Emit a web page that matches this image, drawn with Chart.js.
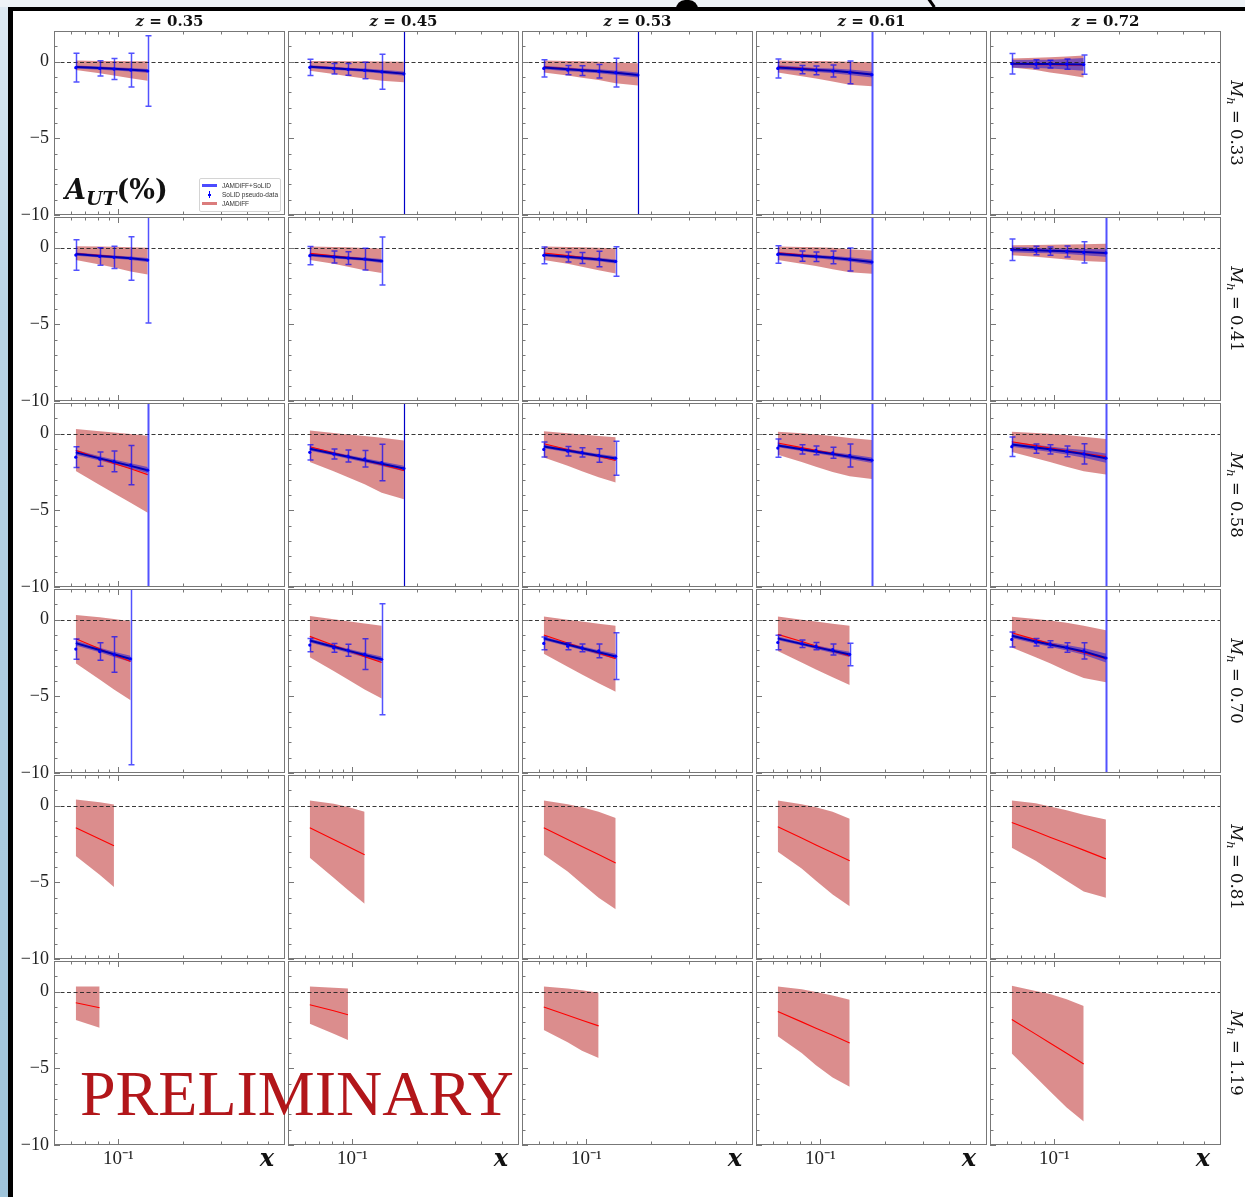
<!DOCTYPE html>
<html>
<head>
<meta charset="utf-8">
<script src="https://cdn.jsdelivr.net/npm/chart.js@4.4.0/dist/chart.umd.min.js"></script>
<style>
  body { margin: 0; width: 1245px; height: 1197px; position: relative; background: #fff; overflow: hidden; font-family: 'Liberation Serif', serif; }
  canvas { position: absolute; }
  .abs { position: absolute; white-space: nowrap; z-index: 5; }
  .zlab { font-family: 'DejaVu Serif', serif; font-weight: bold; font-size: 15px; color: #111; transform: translate(-50%, -50%); }
  .mhlab { font-family: 'DejaVu Serif', serif; font-size: 16.5px; color: #111; transform: translate(-50%, -50%) rotate(90deg); }
  .mhlab sub { font-size: 70%; vertical-align: -0.3em; line-height: 0; }
  .xlab { font-family: 'DejaVu Serif', serif; font-weight: bold; font-style: italic; font-size: 24px; color: #111; transform: translate(-50%, -50%); }
  #legend { position: absolute; left: 199px; top: 178px; width: 80px; height: 32px; border: 1px solid #d4d4d4; border-radius: 2px; background: rgba(255,255,255,0.85); z-index: 5; font-family: 'Liberation Sans', sans-serif; font-size: 6.5px; color: #333; }
  #legend .row { position: absolute; left: 0; height: 9px; width: 80px; }
  #legend .txt { position: absolute; left: 22px; top: 0; line-height: 9px; }
  #legend .swatch { position: absolute; left: 2px; top: 3px; width: 15px; height: 3px; }
</style>
</head>
<body>
<div class="abs" style="left:0;top:0;width:1245px;height:7px;background:#eef3f7;"></div>
<div class="abs" style="left:0;top:7px;width:8px;height:1190px;background:linear-gradient(#dde9f2,#b9d4e5 300px,#9fc4da);"></div>
<div class="abs" style="left:8px;top:7px;width:1237px;height:4px;background:#000;"></div>
<div class="abs" style="left:8px;top:7px;width:5px;height:1190px;background:#000;"></div>
<div class="abs" style="left:676px;top:0;width:22px;height:10px;background:#000;border-radius:9px 9px 0 0;"></div>
<div class="abs" style="left:930px;top:-2px;width:3px;height:10px;background:#000;transform:rotate(-35deg);"></div>

<div class="abs" style="left:65px;top:174px;font-family:'DejaVu Serif',serif;font-weight:bold;font-size:27px;color:#111;">
  <i>A</i><sub style="font-size:70%;vertical-align:-0.3em;line-height:0;"><i>UT</i></sub>(%)
</div>
<div id="legend">
  <div class="row" style="top:2px;"><div class="swatch" style="background:rgba(30,30,255,0.8);"></div><div class="txt">JAMDiFF+SoLID</div></div>
  <div class="row" style="top:11px;">
    <div style="position:absolute;left:9px;top:1px;width:1px;height:7px;background:#00f;"></div>
    <div style="position:absolute;left:8px;top:3.5px;width:3px;height:2px;background:#00f;"></div>
    <div class="txt">SoLID pseudo-data</div></div>
  <div class="row" style="top:20px;"><div class="swatch" style="background:rgba(215,110,110,0.9);"></div><div class="txt">JAMDiFF</div></div>
</div>
<div class="abs" style="left:80px;top:1062px;font-family:'Liberation Serif',serif;font-size:64px;line-height:1;color:#b2161a;">PRELIMINARY</div>

<script>
// x positions of the bins (shared by every panel)
const xPts = [0.0632, 0.0817, 0.0953, 0.114, 0.137, 0.174];
const xTicks = [0.06, 0.07, 0.08, 0.09, 0.1, 0.2, 0.3, 0.4, 0.5];
const zBins = ['0.35', '0.45', '0.53', '0.61', '0.72'];
const mhBins = ['0.33', '0.41', '0.58', '0.70', '0.81', '1.19'];

// JAMDiFF central line and band, [row Mh][col z][point]
const redMid = [
  [[-0.33,-0.40,-0.45,-0.52,-0.60], [-0.30,-0.40,-0.47,-0.55,-0.64,-0.78], [-0.33,-0.46,-0.53,-0.61,-0.71,-0.87], [-0.33,-0.44,-0.51,-0.59,-0.68,-0.84], [-0.17,-0.19,-0.20,-0.21,-0.22]],
  [[-0.38,-0.50,-0.58,-0.67,-0.80], [-0.37,-0.53,-0.62,-0.73,-0.87], [-0.35,-0.52,-0.62,-0.75,-0.90], [-0.33,-0.47,-0.55,-0.64,-0.76,-0.94], [-0.10,-0.16,-0.20,-0.24,-0.29,-0.35]],
  [[-1.09,-1.62,-1.94,-2.29,-2.67], [-0.85,-1.25,-1.48,-1.75,-2.03,-2.40], [-0.66,-1.03,-1.25,-1.49,-1.75], [-0.61,-0.91,-1.08,-1.28,-1.49,-1.77], [-0.53,-0.78,-0.93,-1.10,-1.28,-1.50]],
  [[-1.25,-1.90,-2.30,-2.73], [-1.09,-1.67,-2.01,-2.41,-2.80], [-1.00,-1.52,-1.83,-2.19,-2.54], [-0.96,-1.43,-1.72,-2.04,-2.36], [-0.85,-1.30,-1.55,-1.85,-2.15,-2.55]],
  [[-1.44,-2.17,-2.62], [-1.44,-2.21,-2.67,-3.20], [-1.44,-2.20,-2.66,-3.19,-3.74], [-1.38,-2.11,-2.56,-3.07,-3.60], [-1.10,-1.69,-2.06,-2.47,-2.90,-3.47]],
  [[-0.72,-1.05], [-0.85,-1.25,-1.50], [-1.00,-1.54,-1.86,-2.23], [-1.30,-1.97,-2.38,-2.85,-3.34], [-1.81,-2.77,-3.35,-4.02,-4.72]]
];
const redHi = [
  [[0.07,0.05,0.04,0.03,0.02], [0.05,0.04,0.03,0.02,0.01,0.00], [0.07,0.04,0.02,0.00,-0.05,-0.10], [0.07,0.05,0.04,0.02,0.00,-0.03], [0.20,0.25,0.29,0.33,0.40]],
  [[0.10,0.08,0.06,0.03,0.00], [0.07,0.04,0.02,-0.02,-0.06], [0.07,0.04,0.02,-0.01,-0.04], [0.07,0.05,0.03,0.00,-0.10,-0.18], [0.15,0.17,0.19,0.20,0.22,0.25]],
  [[0.31,0.15,0.07,-0.02,-0.13], [0.20,0.04,-0.05,-0.15,-0.27,-0.44], [0.15,0.02,-0.06,-0.15,-0.24], [0.13,0.03,-0.05,-0.15,-0.28,-0.42], [0.13,0.05,0.00,-0.08,-0.20,-0.34]],
  [[0.30,0.15,0.05,-0.10], [0.24,0.03,-0.10,-0.25,-0.39], [0.20,0.00,-0.12,-0.26,-0.39], [0.20,0.00,-0.12,-0.26,-0.39], [0.19,0.05,-0.05,-0.20,-0.40,-0.69]],
  [[0.40,0.22,0.07], [0.33,0.12,-0.08,-0.40], [0.33,0.10,-0.10,-0.40,-0.80], [0.33,0.10,-0.10,-0.40,-0.85], [0.33,0.15,-0.05,-0.30,-0.60,-0.90]],
  [[0.33,0.33], [0.33,0.26,0.20], [0.33,0.20,0.10,-0.07], [0.33,0.15,-0.02,-0.25,-0.52], [0.39,0.05,-0.15,-0.50,-0.94]]
];
const redLo = [
  [[-0.55,-0.75,-0.90,-1.08,-1.25], [-0.60,-0.80,-0.95,-1.10,-1.25,-1.35], [-0.70,-0.90,-1.05,-1.20,-1.40,-1.55], [-0.70,-0.95,-1.10,-1.30,-1.50,-1.60], [-0.38,-0.55,-0.70,-0.85,-1.03]],
  [[-0.80,-1.10,-1.30,-1.55,-1.75], [-0.80,-1.05,-1.25,-1.48,-1.66], [-0.80,-1.05,-1.25,-1.48,-1.68], [-0.80,-1.05,-1.20,-1.40,-1.60,-1.70], [-0.50,-0.60,-0.68,-0.77,-0.87,-0.94]],
  [[-2.43,-3.34,-3.89,-4.50,-5.16], [-1.84,-2.45,-2.85,-3.30,-3.85,-4.28], [-1.55,-2.10,-2.45,-2.85,-3.19], [-1.38,-1.85,-2.15,-2.50,-2.78,-2.95], [-1.19,-1.60,-1.85,-2.15,-2.45,-2.66]],
  [[-2.84,-3.90,-4.55,-5.25], [-2.45,-3.35,-3.90,-4.55,-5.14], [-2.23,-3.07,-3.57,-4.15,-4.70], [-2.05,-2.80,-3.25,-3.75,-4.26], [-1.82,-2.45,-2.85,-3.35,-3.80,-4.08]],
  [[-3.28,-4.50,-5.30], [-3.40,-4.70,-5.50,-6.40], [-3.20,-4.30,-5.10,-6.00,-6.75], [-3.00,-4.10,-4.90,-5.80,-6.56], [-2.75,-3.60,-4.20,-4.90,-5.60,-6.00]],
  [[-1.84,-2.36], [-2.10,-2.75,-3.15], [-2.50,-3.30,-3.85,-4.33], [-2.90,-4.00,-4.80,-5.60,-6.20], [-4.04,-5.56,-6.49,-7.55,-8.46]]
];

// JAMDiFF+SoLID line and band half-width (first four Mh rows only)
const bluMid = [
  [[-0.35,-0.42,-0.47,-0.53,-0.60], [-0.33,-0.43,-0.49,-0.56,-0.65,-0.78], [-0.38,-0.50,-0.56,-0.63,-0.72,-0.87], [-0.38,-0.48,-0.54,-0.60,-0.69,-0.84], [-0.14,-0.15,-0.16,-0.17,-0.18]],
  [[-0.42,-0.54,-0.61,-0.69,-0.80], [-0.47,-0.60,-0.67,-0.75,-0.87], [-0.47,-0.60,-0.68,-0.77,-0.90], [-0.40,-0.52,-0.58,-0.66,-0.77,-0.94], [-0.12,-0.17,-0.20,-0.24,-0.29,-0.35]],
  [[-1.22,-1.61,-1.84,-2.10,-2.38], [-0.98,-1.31,-1.51,-1.73,-1.96,-2.27], [-0.83,-1.10,-1.26,-1.44,-1.62], [-0.77,-1.02,-1.16,-1.33,-1.50,-1.73], [-0.70,-0.90,-1.02,-1.16,-1.32,-1.60]],
  [[-1.53,-1.98,-2.26,-2.56], [-1.36,-1.77,-2.02,-2.30,-2.58], [-1.22,-1.62,-1.86,-2.13,-2.40], [-1.22,-1.58,-1.79,-2.03,-2.27], [-1.05,-1.42,-1.62,-1.83,-2.07,-2.50]]
];
const bluErr = [
  [[0.10,0.10,0.10,0.11,0.12], [0.10,0.10,0.10,0.11,0.12,0.14], [0.12,0.12,0.12,0.13,0.15,0.17], [0.15,0.13,0.13,0.15,0.18,0.20], [0.25,0.27,0.29,0.34,0.42]],
  [[0.10,0.10,0.10,0.11,0.13], [0.10,0.10,0.10,0.11,0.13], [0.10,0.10,0.10,0.11,0.13], [0.12,0.11,0.11,0.12,0.14,0.17], [0.18,0.17,0.17,0.18,0.20,0.25]],
  [[0.15,0.14,0.15,0.17,0.20], [0.13,0.12,0.12,0.13,0.15,0.18], [0.12,0.11,0.11,0.12,0.14], [0.12,0.11,0.11,0.12,0.15,0.18], [0.15,0.17,0.18,0.20,0.25,0.30]],
  [[0.15,0.15,0.17,0.20], [0.13,0.12,0.13,0.15,0.18], [0.12,0.11,0.12,0.14,0.17], [0.12,0.11,0.12,0.14,0.17], [0.15,0.15,0.15,0.18,0.22,0.30]]
];

// SoLID pseudo-data and its errors (30 = bar runs off the panel)
const pseudoY = [
  [[-0.39,-0.44,-0.48,-0.55,-0.61], [-0.37,-0.46,-0.50,-0.57,-0.66,-0.79], [-0.44,-0.55,-0.59,-0.63,-0.72,-0.87], [-0.44,-0.52,-0.57,-0.61,-0.70,-0.85], [-0.13,-0.16,-0.16,-0.16,-0.19]],
  [[-0.48,-0.57,-0.63,-0.70,-0.81], [-0.52,-0.61,-0.68,-0.74,-0.87], [-0.50,-0.61,-0.68,-0.74,-0.90], [-0.44,-0.55,-0.59,-0.63,-0.77,-0.94], [-0.13,-0.19,-0.22,-0.25,-0.31,-0.34]],
  [[-1.53,-1.66,-1.81,-2.05,-2.38], [-1.22,-1.33,-1.46,-1.64,-1.88,-2.27], [-1.03,-1.14,-1.22,-1.42,-1.60], [-0.94,-1.03,-1.09,-1.25,-1.42,-1.73], [-0.85,-0.97,-1.03,-1.16,-1.32,-1.60]],
  [[-1.92,-2.08,-2.27,-2.56], [-1.66,-1.84,-1.99,-2.25,-2.58], [-1.55,-1.73,-1.84,-2.03,-2.38], [-1.49,-1.57,-1.73,-1.95,-2.27], [-1.29,-1.47,-1.60,-1.82,-2.04,-2.50]]
];
const pseudoErr = [
  [[0.94,0.50,0.68,1.10,2.30], [0.53,0.34,0.38,0.54,1.14,30], [0.56,0.30,0.32,0.44,0.94,30], [0.62,0.27,0.28,0.39,0.74,30], [0.67,0.28,0.25,0.33,0.63]],
  [[1.00,0.57,0.73,1.42,4.10], [0.60,0.39,0.42,0.71,1.57], [0.55,0.33,0.36,0.50,0.96], [0.57,0.33,0.31,0.42,0.75,30], [0.70,0.28,0.27,0.36,0.69,30]],
  [[0.67,0.46,0.68,1.28,30], [0.50,0.33,0.39,0.54,1.19,30], [0.49,0.31,0.30,0.44,1.11], [0.59,0.30,0.28,0.36,0.75,30], [0.64,0.30,0.30,0.35,0.66,30]],
  [[0.66,0.57,1.16,6.90], [0.43,0.28,0.39,1.00,3.62], [0.42,0.23,0.26,0.45,1.53], [0.48,0.24,0.24,0.36,0.74], [0.49,0.24,0.22,0.31,0.53,30]]
];
// panels whose long bar is drawn thin and dark
const darkBars = ['0-1', '0-2', '2-1'];

const W = 231, H = 184, X0 = 54, Y0 = 31, DX = 234, DY = 186;
const tickFont = { family: 'Liberation Serif', size: 18 };

function pts(vals, add) {
	return vals.map((v, i) => ({ x: xPts[i], y: add ? v + add[i] : v }));
}

const panelDraw = {
	id: 'panelDraw',
	afterDatasetsDraw(chart) {
		let { ctx, chartArea: a, scales: { x, y } } = chart;
		ctx.save();
		ctx.beginPath();
		ctx.rect(a.left, a.top, a.right - a.left, a.bottom - a.top);
		ctx.clip();

		let y0 = Math.round(y.getPixelForValue(0)) + 0.5;
		ctx.strokeStyle = '#222';
		ctx.lineWidth = 0.9;
		ctx.setLineDash([4, 2.5]);
		ctx.beginPath();
		ctx.moveTo(a.left, y0);
		ctx.lineTo(a.right, y0);
		ctx.stroke();
		ctx.setLineDash([]);

		chart.data.datasets.forEach(ds => {
			if (!ds.errorBars) return;
			ds.data.forEach(d => {
				let px = Math.round(x.getPixelForValue(d.x)) + 0.5;
				let top = y.getPixelForValue(d.y + d.e);
				let bot = y.getPixelForValue(d.y - d.e);
				let long = d.e > 10;
				if (long && ds.dark) {
					ctx.strokeStyle = '#0000c8';
					ctx.lineWidth = 1.2;
				} else {
					ctx.strokeStyle = 'rgba(0, 0, 255, 0.68)';
					ctx.lineWidth = long ? 2 : 1.5;
				}
				ctx.beginPath();
				ctx.moveTo(px, top);
				ctx.lineTo(px, bot);
				ctx.moveTo(px - 3, top);
				ctx.lineTo(px + 3, top);
				ctx.moveTo(px - 3, bot);
				ctx.lineTo(px + 3, bot);
				ctx.stroke();
			});
		});
		ctx.restore();
	},
	afterDraw(chart) {
		let { ctx, chartArea: a, scales: { x, y } } = chart;
		ctx.save();
		ctx.strokeStyle = '#777';
		ctx.lineWidth = 1;
		ctx.strokeRect(a.left + 0.5, a.top + 0.5, a.right - a.left - 1, a.bottom - a.top - 1);
		ctx.beginPath();
		x.ticks.forEach(t => {
			let px = Math.round(x.getPixelForValue(t.value)) + 0.5;
			let len = t.value === 0.1 ? 6 : 3.5;
			ctx.moveTo(px, a.bottom);
			ctx.lineTo(px, a.bottom - len);
			ctx.moveTo(px, a.top);
			ctx.lineTo(px, a.top + len);
		});
		y.ticks.forEach(t => {
			let py = Math.round(y.getPixelForValue(t.value)) + 0.5;
			let len = t.value % 5 === 0 ? 6 : 3.5;
			ctx.moveTo(a.left, py);
			ctx.lineTo(a.left + len, py);
		});
		ctx.stroke();
		ctx.restore();
	}
};

function makePanel(r, c) {
	let padL = c === 0 ? 50 : 10;
	let padB = r === 5 ? 40 : 10;
	let cv = document.createElement('canvas');
	cv.width = padL + W + 10;
	cv.height = 10 + H + padB;
	cv.style.left = (X0 + c * DX - padL) + 'px';
	cv.style.top = (Y0 + r * DY - 10) + 'px';
	document.body.appendChild(cv);

	let datasets = [
		{ data: pts(redHi[r][c]), fill: '+1', backgroundColor: 'rgba(200, 80, 80, 0.65)', borderColor: 'transparent', borderWidth: 1, pointRadius: 0, order: 5 },
		{ data: pts(redLo[r][c]), fill: false, borderColor: 'transparent', borderWidth: 1, pointRadius: 0, order: 5 }
	];
	let hasBlue = r < bluMid.length;
	if (hasBlue) {
		let neg = bluErr[r][c].map(v => -v);
		datasets.push(
			{ data: pts(bluMid[r][c], bluErr[r][c]), fill: '+1', backgroundColor: 'rgba(0, 0, 230, 0.45)', borderColor: 'transparent', borderWidth: 1, pointRadius: 0, order: 4 },
			{ data: pts(bluMid[r][c], neg), fill: false, borderColor: 'transparent', borderWidth: 1, pointRadius: 0, order: 4 }
		);
	}
	datasets.push({ data: pts(redMid[r][c]), fill: false, borderColor: '#ff0000', borderWidth: 1.1, pointRadius: 0, order: 3 });
	if (hasBlue) {
		datasets.push(
			{ data: pts(bluMid[r][c]), fill: false, borderColor: '#0000b4', borderWidth: 2, pointRadius: 0, order: 2 },
			{
				data: pseudoY[r][c].map((v, i) => ({ x: xPts[i], y: v, e: pseudoErr[r][c][i] })),
				showLine: false, pointRadius: 1.6, pointBackgroundColor: '#0000ff', pointBorderWidth: 0,
				order: 1, errorBars: true, dark: darkBars.includes(r + '-' + c)
			}
		);
	}

	new Chart(cv, {
		type: 'line',
		data: { datasets },
		options: {
			responsive: false,
			animation: false,
			events: [],
			devicePixelRatio: 1,
			layout: { padding: { left: c === 0 ? 0 : 10, top: 10, right: 10, bottom: 10 } },
			plugins: { legend: { display: false }, tooltip: { enabled: false } },
			elements: { line: { tension: 0 } },
			scales: {
				x: {
					type: 'logarithmic', min: 0.05, max: 0.6, bounds: 'data',
					grid: { display: false, drawTicks: false }, border: { display: false },
					afterBuildTicks: s => { s.ticks = xTicks.map(v => ({ value: v })); },
					afterFit: s => { s.height = r === 5 ? 30 : 0; s.paddingLeft = 0; s.paddingRight = 0; },
					ticks: {
						display: r === 5, autoSkip: false, maxRotation: 0, minRotation: 0, padding: 3,
						color: '#222', font: { family: 'Liberation Serif', size: 19 },
						callback: v => v === 0.1 ? '10⁻¹' : ''
					}
				},
				y: {
					type: 'linear', min: -10, max: 2, bounds: 'data',
					grid: { display: false, drawTicks: false }, border: { display: false },
					afterFit: s => { s.width = c === 0 ? 50 : 0; s.paddingTop = 0; s.paddingBottom = 0; },
					ticks: {
						display: c === 0, stepSize: 1, autoSkip: false, padding: 5,
						color: '#222', font: tickFont,
						callback: v => v % 5 === 0 ? (v < 0 ? '−' + (-v) : String(v)) : ''
					}
				}
			}
		},
		plugins: [panelDraw]
	});
}

for (let r = 0; r < mhBins.length; r++) {
	for (let c = 0; c < zBins.length; c++) {
		makePanel(r, c);
	}
}

// column and row labels
zBins.forEach((z, c) => {
	let d = document.createElement('div');
	d.className = 'abs zlab';
	d.style.left = (X0 + c * DX + W / 2) + 'px';
	d.style.top = '21px';
	d.innerHTML = '<i>z</i> = ' + z;
	document.body.appendChild(d);

	let xl = document.createElement('div');
	xl.className = 'abs xlab';
	xl.style.left = (X0 + c * DX + 213) + 'px';
	xl.style.top = '1157px';
	xl.textContent = 'x';
	document.body.appendChild(xl);
});
mhBins.forEach((m, r) => {
	let d = document.createElement('div');
	d.className = 'abs mhlab';
	d.style.left = '1236px';
	d.style.top = (Y0 + r * DY + H / 2) + 'px';
	d.innerHTML = '<i>M</i><sub><i>h</i></sub> = ' + m;
	document.body.appendChild(d);
});
</script>
</body>
</html>
